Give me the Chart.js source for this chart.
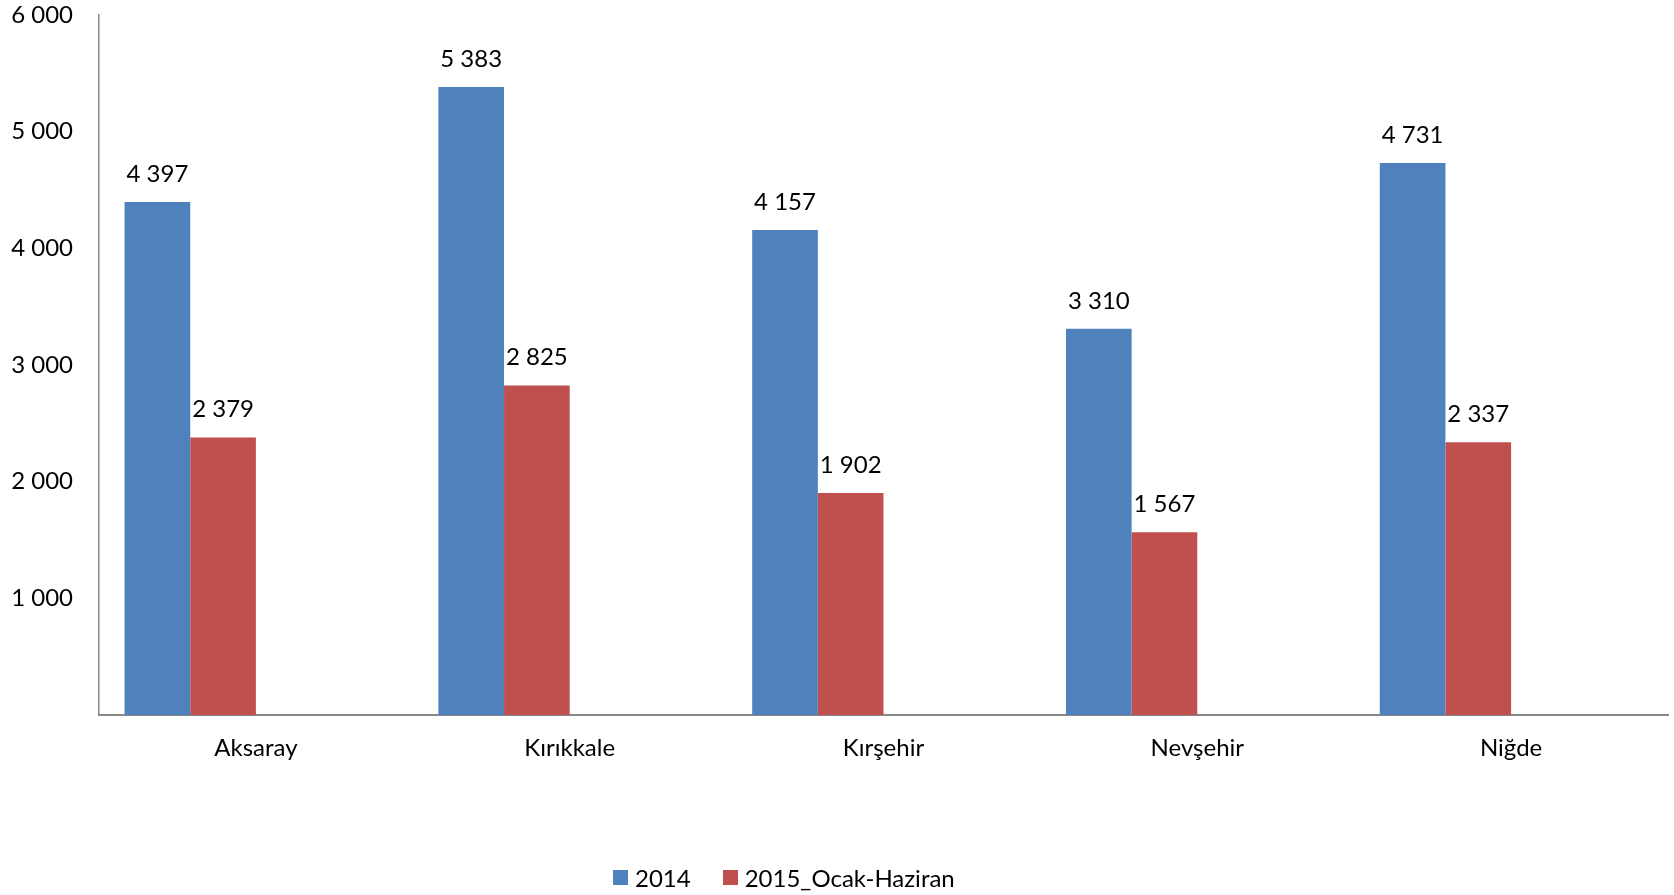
<!DOCTYPE html>
<html>
<head>
<meta charset="utf-8">
<script src="https://cdn.jsdelivr.net/npm/chart.js@4"></script>
<style>
  body { margin: 0; background: #fff; }
  #wrap { position: relative; width: 1674px; height: 895px; }
  #legend { position: absolute; left: 613px; top: 863px; display: flex; align-items: center;
            font-family: Lato, "Open Sans", sans-serif; font-size: 24px; color: #000; }
  #legend .item { display: flex; align-items: center; margin-right: 32px; }
  #legend .box { width: 15px; height: 15px; margin-right: 7px; }
</style>
</head>
<body>
<div id="wrap">
  <canvas id="ilChart" width="1674" height="895"></canvas>
  <div id="legend"></div>
</div>
<script>
// Veriler
const iller = ['Aksaray', 'Kırıkkale', 'Kırşehir', 'Nevşehir', 'Niğde'];
const seri2014 = [4397, 5383, 4157, 3310, 4731];
const seri2015 = [2379, 2825, 1902, 1567, 2337];
const seriAdlari = ['2014', '2015_Ocak-Haziran'];
const seriRenkleri = ['#4F81BD', '#C0504D'];
const yTicks = [0, 1000, 2000, 3000, 4000, 5000, 6000];

function binlik(v) {
  return String(v).replace(/\B(?=(\d{3})+(?!\d))/g, ' ');
}

const fontAile = 'Lato, "Open Sans", sans-serif';
const fontBoyut = 24;

// bar value labels
const degerEtiketleri = {
  id: 'degerEtiketleri',
  afterDatasetsDraw(chart) {
    const ctx = chart.ctx;
    ctx.save();
    ctx.font = fontBoyut + 'px ' + fontAile;
    ctx.fillStyle = '#000';
    ctx.textAlign = 'center';
    ctx.textBaseline = 'middle';
    chart.data.datasets.forEach((ds, i) => {
      if (!ds.etiket) return;
      chart.getDatasetMeta(i).data.forEach((bar, j) => {
        if (ds.data[j] == null) return;
        ctx.fillText(binlik(ds.data[j]), bar.x, bar.y - 28);
      });
    });
    ctx.restore();
  }
};

const ctx = document.getElementById('ilChart').getContext('2d');
new Chart(ctx, {
  type: 'bar',
  data: {
    labels: iller,
    datasets: [
      { label: seriAdlari[0], data: seri2014, backgroundColor: seriRenkleri[0], etiket: true },
      { label: seriAdlari[1], data: seri2015, backgroundColor: seriRenkleri[1], etiket: true },
      // Excel'deki boş seriler (yer tutucu)
      { label: '', data: iller.map(() => null), backgroundColor: 'transparent' },
      { label: '', data: iller.map(() => null), backgroundColor: 'transparent' }
    ]
  },
  options: {
    responsive: false,
    animation: false,
    layout: { padding: { top: 15, right: 6, left: 0, bottom: 0 } },
    datasets: { bar: { categoryPercentage: 0.837, barPercentage: 1 } },
    plugins: {
      legend: { display: false },
      tooltip: { enabled: false }
    },
    scales: {
      x: {
        grid: { display: false, drawTicks: false },
        border: { color: '#888', width: 2 },
        ticks: { color: '#000', padding: 19, font: { family: fontAile, size: fontBoyut } },
        afterFit(scale) { scale.height = 180; scale.paddingLeft = 0; scale.paddingRight = 0; }
      },
      y: {
        min: 0,
        max: 6000,
        afterBuildTicks(scale) { scale.ticks = yTicks.map(v => ({ value: v })); },
        grid: { display: false, drawTicks: false },
        border: { color: '#888', width: 1.5 },
        ticks: {
          color: '#000',
          padding: 26,
          font: { family: fontAile, size: fontBoyut },
          callback: v => v === 0 ? '' : binlik(v)
        },
        afterFit(scale) { scale.width = 99; scale.paddingTop = 0; scale.paddingBottom = 0; }
      }
    }
  },
  plugins: [degerEtiketleri]
});

// legend
const legend = document.getElementById('legend');
seriAdlari.forEach((ad, i) => {
  const item = document.createElement('div');
  item.className = 'item';
  const box = document.createElement('span');
  box.className = 'box';
  box.style.background = seriRenkleri[i];
  const txt = document.createElement('span');
  txt.textContent = ad;
  item.appendChild(box);
  item.appendChild(txt);
  legend.appendChild(item);
});
</script>
</body>
</html>
